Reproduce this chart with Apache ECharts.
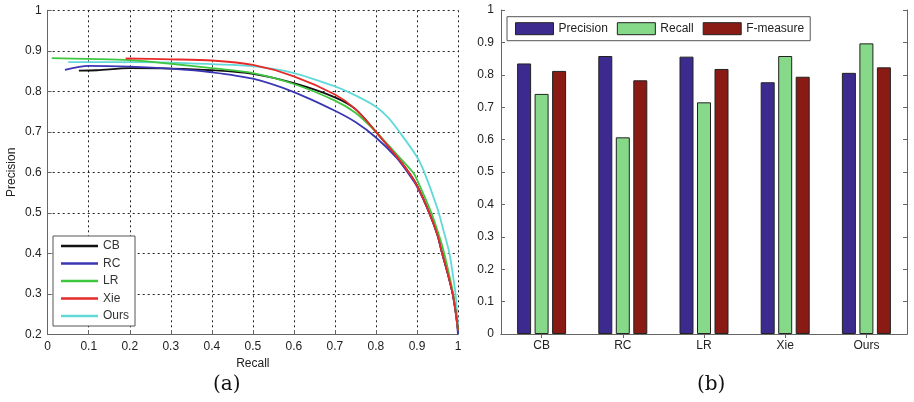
<!DOCTYPE html>
<html>
<head>
<meta charset="utf-8">
<script src="https://cdn.jsdelivr.net/npm/echarts@6/dist/echarts.min.js"></script>
<style>
html,body{margin:0;padding:0;background:#fff;}
#chart{width:914px;height:402px;}
</style>
</head>
<body>
<div id="chart"></div>
<script>
// ---------- Panel (a): precision-recall curves ----------
var curveNames = ['CB', 'RC', 'LR', 'Xie', 'Ours'];
var curveCB = [[0.076,0.851],[0.12,0.852],[0.2,0.857],[0.3,0.856],[0.4,0.852],[0.5,0.843],[0.6,0.82],[0.7,0.785],[0.75,0.756],[0.8,0.70],[0.85,0.64],[0.88,0.60],[0.9,0.568],[0.93,0.50],[0.95,0.445],[0.96,0.405],[0.975,0.35],[0.987,0.30],[0.995,0.25],[1,0.21]];
var curveRC = [[0.042,0.853],[0.1,0.863],[0.2,0.861],[0.3,0.856],[0.4,0.847],[0.5,0.831],[0.6,0.798],[0.7,0.752],[0.75,0.724],[0.8,0.686],[0.85,0.636],[0.877,0.60],[0.9,0.565],[0.93,0.50],[0.95,0.445],[0.96,0.405],[0.975,0.35],[0.987,0.30],[0.995,0.25],[1,0.2]];
var curveLR = [[0.01,0.882],[0.1,0.880],[0.2,0.877],[0.3,0.868],[0.4,0.857],[0.5,0.845],[0.6,0.818],[0.7,0.777],[0.75,0.747],[0.8,0.70],[0.85,0.645],[0.89,0.60],[0.9,0.582],[0.935,0.50],[0.955,0.44],[0.965,0.405],[0.98,0.34],[0.99,0.29],[1,0.21]];
var curveXie = [[0.19,0.881],[0.3,0.879],[0.4,0.876],[0.5,0.865],[0.6,0.837],[0.7,0.792],[0.75,0.756],[0.8,0.70],[0.85,0.64],[0.88,0.60],[0.9,0.567],[0.93,0.50],[0.95,0.445],[0.96,0.405],[0.975,0.35],[0.987,0.30],[0.995,0.25],[1,0.21]];
var curveOurs = [[0.05,0.872],[0.2,0.872],[0.3,0.871],[0.4,0.867],[0.5,0.862],[0.6,0.845],[0.7,0.812],[0.75,0.79],[0.8,0.762],[0.83,0.735],[0.857,0.70],[0.9,0.638],[0.918,0.60],[0.95,0.51],[0.965,0.455],[0.979,0.40],[0.99,0.33],[0.995,0.29],[1,0.22]];
var curveColors = ['#111111', '#3a36b4', '#3fc63f', '#e62a2a', '#62d9d9'];

// ---------- Panel (b): bar chart ----------
var methods = ['CB', 'RC', 'LR', 'Xie', 'Ours'];
var precisionVals = [0.835, 0.858, 0.856, 0.777, 0.806];
var recallVals = [0.741, 0.607, 0.715, 0.858, 0.897];
var fmeasureVals = [0.812, 0.783, 0.818, 0.794, 0.823];
var barNames = ['Precision', 'Recall', 'F-measure'];
var barColors = ['#3d2a8f', '#86d988', '#8a1a14'];

var FONT = 'Liberation Sans, Arial, sans-serif';
var labelStyle = {color: '#222', fontSize: 12, fontFamily: FONT};
var axisLineGray = {lineStyle: {color: '#666', width: 1}};
var dotted = {show: true, lineStyle: {color: '#222', width: 1, type: [2, 3]}};
function fmt(v) { return String(parseFloat(Number(v).toFixed(1))); }

var curves = [curveCB, curveRC, curveLR, curveXie, curveOurs];
var series = [];
curves.forEach(function (c, i) {
  series.push({
    name: curveNames[i], type: 'line', xAxisIndex: 0, yAxisIndex: 0,
    data: c, showSymbol: false, symbol: 'none', smooth: 0.3,
    lineStyle: {color: curveColors[i], width: 1.8}, itemStyle: {color: curveColors[i]},
    z: 3 + (i === 4 ? 0 : 1), animation: false
  });
});
var barData = [precisionVals, recallVals, fmeasureVals];
barData.forEach(function (d, i) {
  series.push({
    name: barNames[i], type: 'bar', xAxisIndex: 1, yAxisIndex: 1,
    data: d, barWidth: 14, barGap: '25%',
    itemStyle: {color: barColors[i], borderColor: '#222', borderWidth: 1},
    animation: false
  });
});

var option = {
  animation: false,
  backgroundColor: '#fff',
  grid: [
    {left: 47.7, right: 456, top: 10.3, bottom: 67.7},
    {left: 501, right: 7, top: 10, bottom: 68}
  ],
  legend: [
    {
      data: curveNames, orient: 'vertical', left: 53, top: 236,
      backgroundColor: '#fff', borderColor: '#555', borderWidth: 1,
      padding: [3, 6, 3, 8], itemGap: 3.5, itemWidth: 37, itemHeight: 2.5,
      icon: 'rect', textStyle: {color: '#333', fontSize: 12, fontFamily: FONT, lineHeight: 14}
    },
    {
      data: barNames, orient: 'horizontal', left: 507, top: 16.7,
      backgroundColor: '#fff', borderColor: '#555', borderWidth: 1,
      padding: [5.5, 6, 5.5, 8], itemGap: 9, itemWidth: 38, itemHeight: 12,
      icon: 'rect', itemStyle: {borderColor: '#222', borderWidth: 1},
      textStyle: {color: '#222', fontSize: 12, fontFamily: FONT, lineHeight: 12}
    }
  ],
  xAxis: [
    {
      type: 'value', gridIndex: 0, min: 0, max: 1, interval: 0.1,
      axisLine: axisLineGray, axisTick: {show: true, inside: true, length: 4, lineStyle: {color: '#666'}},
      axisLabel: Object.assign({margin: 6, formatter: fmt}, labelStyle),
      splitLine: dotted,
      name: 'Recall', nameLocation: 'middle', nameGap: 21,
      nameTextStyle: {color: '#222', fontSize: 12, fontFamily: FONT}
    },
    {
      type: 'category', gridIndex: 1, data: methods, boundaryGap: true,
      axisLine: axisLineGray, axisTick: {show: true, inside: true, length: 4, alignWithLabel: true, lineStyle: {color: '#666'}},
      axisLabel: Object.assign({margin: 6}, labelStyle),
      splitLine: {show: false}
    },
    {
      type: 'category', gridIndex: 1, data: methods, boundaryGap: true, position: 'top',
      axisLine: axisLineGray, axisTick: {show: true, inside: true, length: 4, alignWithLabel: true, lineStyle: {color: '#666'}},
      axisLabel: {show: false}, splitLine: {show: false}
    }
  ],
  yAxis: [
    {
      type: 'value', gridIndex: 0, min: 0.2, max: 1, interval: 0.1,
      axisLine: {show: true, lineStyle: {color: '#666', width: 1}},
      axisTick: {show: true, inside: true, length: 4, lineStyle: {color: '#666'}},
      axisLabel: Object.assign({margin: 6, formatter: fmt}, labelStyle),
      splitLine: dotted,
      name: 'Precision', nameLocation: 'middle', nameGap: 30, nameRotate: 90,
      nameTextStyle: {color: '#222', fontSize: 12, fontFamily: FONT}
    },
    {
      type: 'value', gridIndex: 1, min: 0, max: 1, interval: 0.1,
      axisLine: {show: true, lineStyle: {color: '#666', width: 1}},
      axisTick: {show: true, inside: true, length: 4, lineStyle: {color: '#666'}},
      axisLabel: Object.assign({margin: 7, formatter: fmt}, labelStyle),
      splitLine: {show: false}
    },
    {
      type: 'value', gridIndex: 1, min: 0, max: 1, interval: 0.1, position: 'right',
      axisLine: {show: true, lineStyle: {color: '#666', width: 1}},
      axisTick: {show: true, inside: true, length: 4, lineStyle: {color: '#666'}},
      axisLabel: {show: false}, splitLine: {show: false}
    }
  ],
  graphic: [
    {type: 'text', left: 213, top: 375, style: {text: '(a)', fill: '#111', font: '20px "DejaVu Serif", "Liberation Serif", serif'}},
    {type: 'text', left: 697, top: 375, style: {text: '(b)', fill: '#111', font: '20px "DejaVu Serif", "Liberation Serif", serif'}}
  ],
  series: series
};

var chart = echarts.init(document.getElementById('chart'), null, {renderer: 'canvas'});
chart.setOption(option);
</script>
</body>
</html>
